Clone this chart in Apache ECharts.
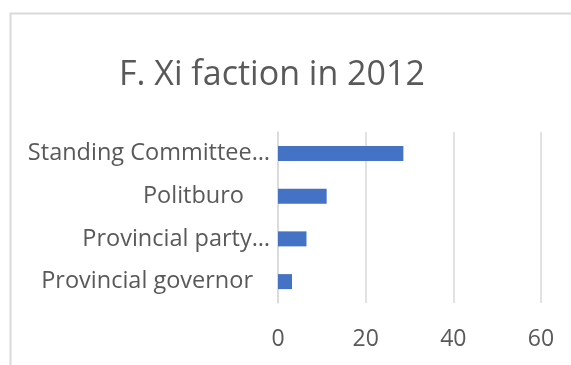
<!DOCTYPE html>
<html>
<head>
<meta charset="utf-8">
<script src="https://cdn.jsdelivr.net/npm/echarts@6/dist/echarts.min.js"></script>
<style>
  html, body { margin: 0; padding: 0; background: #ffffff; }
  #chart { width: 571px; height: 365px; }
</style>
</head>
<body>
<div id="chart"></div>
<script>
// Share of posts held by the Xi faction, 2012 (percent)
const categories = ['Standing Committee…', 'Politburo', 'Provincial party…', 'Provincial governor'];
const values = [28.6, 11.1, 6.5, 3.2];
const xTicks = [0, 20, 40, 60];

const labelFont = '"Open Sans", "Noto Sans", sans-serif';
// extra right-hand gap for labels that Excel leaves short of the axis
const labelGap = { 'Politburo': 26, 'Provincial governor': 17 };

const chart = echarts.init(document.getElementById('chart'), null, { renderer: 'canvas' });
chart.setOption({
  animation: false,
  backgroundColor: '#ffffff',
  title: {
    text: 'F. Xi faction in 2012',
    left: 114,
    top: 53,
    textStyle: { fontFamily: labelFont, fontSize: 34, fontWeight: 'normal', color: '#595959' }
  },
  graphic: [{
    type: 'rect',
    shape: { x: 10.5, y: 13.5, width: 700, height: 500 },
    style: { fill: 'none', stroke: '#d9d9d9', lineWidth: 2 },
    silent: true
  }],
  grid: { left: 278, right: 30, top: 132, bottom: 62, containLabel: false },
  xAxis: {
    type: 'value',
    min: xTicks[0],
    max: xTicks[xTicks.length - 1],
    interval: xTicks[1] - xTicks[0],
    axisLine: { show: false },
    axisTick: { show: false },
    splitLine: { show: true, lineStyle: { color: '#d9d9d9', width: 1.5 } },
    axisLabel: { fontFamily: labelFont, fontSize: 23, color: '#595959', margin: 25 }
  },
  yAxis: {
    type: 'category',
    data: categories,
    inverse: true,
    axisLine: { show: true, lineStyle: { color: '#d9d9d9', width: 1.5 } },
    axisTick: { show: false },
    axisLabel: {
      fontFamily: labelFont,
      fontSize: 23.5,
      color: '#595959',
      margin: 8,
      formatter: function (v) {
        return labelGap[v] ? '{g' + labelGap[v] + '|' + v + '}' : v;
      },
      rich: {
        g26: { fontFamily: labelFont, fontSize: 23.5, color: '#595959', padding: [0, 26, 0, 0] },
        g17: { fontFamily: labelFont, fontSize: 23.5, color: '#595959', padding: [0, 17, 0, 0] }
      }
    }
  },
  series: [{
    type: 'bar',
    data: values,
    barWidth: 15,
    itemStyle: { color: '#4472c4' }
  }]
});
</script>
</body>
</html>
